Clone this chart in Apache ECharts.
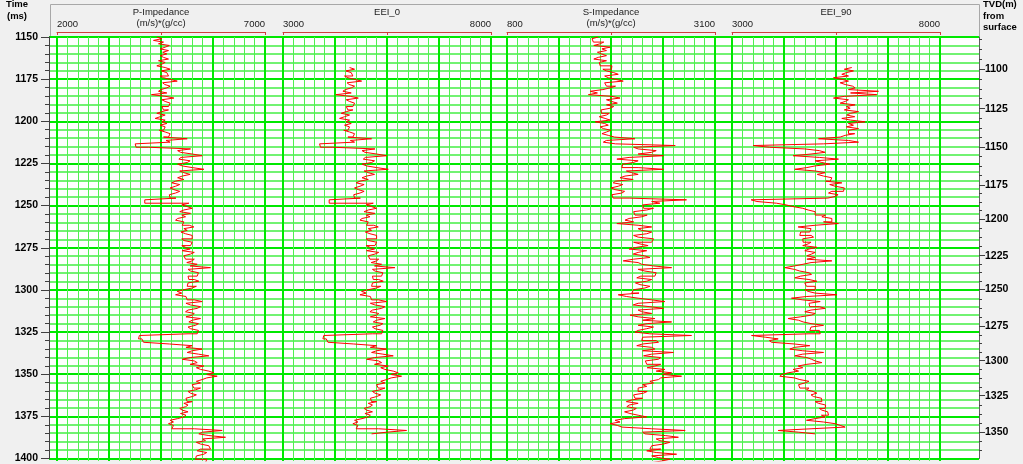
<!DOCTYPE html>
<html><head><meta charset="utf-8">
<script src="https://cdn.jsdelivr.net/npm/echarts@6/dist/echarts.min.js"></script>
<style>html,body{margin:0;padding:0;background:#f0f0f0;}#c{width:1023px;height:464px;}</style>
</head><body><div id="c"></div>
<script>
// ---------- DATA ----------
const timeMin = 1150, timeMax = 1400;
const tvdLabels = [1100, 1125, 1150, 1175, 1200, 1225, 1250, 1275, 1300, 1325, 1350];
const tvdTickTimes = [1168.9, 1192.5, 1215.4, 1237.9, 1257.9, 1279.7, 1299.8, 1321.6, 1342.0, 1362.7, 1384.5];
const trackNames = ['P-Impedance', 'EEI_0', 'S-Impedance', 'EEI_90'];
const trackUnits = ['(m/s)*(g/cc)', '', '(m/s)*(g/cc)', ''];
const trackMin = [2000, 3000, 800, 3000];
const trackMax = [7000, 8000, 3100, 8000];
const sampleStep = 1; // ms
const pImpStart = 1150;
const pImp = [
4400,4520,4320,4560,4440,4700,4600,4480,4680,4540,
4640,4480,4560,4680,4440,4600,4520,4400,4600,4720,
4510,4640,4680,4480,4560,4720,4890,4540,4590,4720,
4640,4500,4440,4640,4270,4620,4810,4520,4600,4720,
4680,4520,4560,4680,4520,4400,4600,4480,4360,4600,
4520,4640,4480,4600,4560,4460,4600,4720,4680,4560,
5130,4620,4720,3880,3900,4200,5210,4900,4970,5250,
5490,4980,4930,5200,5130,4900,5010,5250,5530,4950,
5050,5200,5010,4900,5050,4850,4760,4950,4850,4720,
4810,4950,4850,4700,4720,4860,4110,4110,5170,5000,
5130,5250,5050,4950,5210,5000,5090,4900,4850,5050,
5010,5180,5290,5050,5130,4980,5090,5250,5250,5000,
5050,5250,5210,5000,5090,5200,5010,5300,5210,5050,
5090,5300,5250,5120,5370,5200,5690,5150,5210,5400,
5370,5150,5170,5300,5410,5150,5130,5350,5250,5050,
4890,5000,4850,5100,5130,5300,5490,5100,5210,5450,
5370,5150,5090,5300,5250,5100,5450,5250,5170,5400,
5330,5150,5210,5400,5370,5150,3980,3960,4040,4080,
4120,4700,5250,5100,5490,5250,5130,5400,5650,5200,
5010,5300,5370,5200,5530,5350,5450,5650,5770,5600,
5850,5600,5490,5350,5450,5250,5290,5450,5330,5150,
5210,5350,5250,5100,5130,5250,5050,5150,5090,4950,
5010,5150,4970,5100,5050,4900,4720,4800,4680,4800,
4760,5300,5970,5500,5410,5650,6050,5500,5570,5350,
5450,5650,5690,5450,5370,5600,5530,5350,5330,5600,
5570,5400,5450];
const eei0Start = 1168;
const eei0 = [
4600,4720,
4510,4640,4680,4480,4560,4720,4890,4540,4590,4720,
4640,4500,4440,4640,4270,4620,4810,4520,4600,4720,
4680,4520,4560,4680,4520,4400,4600,4480,4360,4600,
4520,4640,4480,4600,4560,4460,4600,4720,4680,4560,
5130,4620,4720,3880,3900,4200,5210,4900,4970,5250,
5490,4980,4930,5200,5130,4900,5010,5250,5530,4950,
5050,5200,5010,4900,5050,4850,4760,4950,4850,4720,
4810,4950,4850,4700,4720,4860,4110,4110,5170,5000,
5130,5250,5050,4950,5210,5000,5090,4900,4850,5050,
5010,5180,5290,5050,5130,4980,5090,5250,5250,5000,
5050,5250,5210,5000,5090,5200,5010,5300,5210,5050,
5090,5300,5250,5120,5370,5200,5690,5150,5210,5400,
5370,5150,5170,5300,5410,5150,5130,5350,5250,5050,
4890,5000,4850,5100,5130,5300,5490,5100,5210,5450,
5370,5150,5090,5300,5250,5100,5450,5250,5170,5400,
5330,5150,5210,5400,5370,5150,3980,3960,4040,4080,
4120,4700,5250,5100,5490,5250,5130,5400,5650,5200,
5010,5300,5370,5200,5530,5350,5450,5650,5770,5600,
5850,5600,5490,5350,5450,5250,5290,5450,5330,5150,
5210,5350,5250,5100,5130,5250,5050,5150,5090,4950,
5010,5150,4970,5100,5050,4900,4720,4800,4680,4800,
4760,5300,5970,5500,5130];
const sImpStart = 1150;
const sImp = [
1810,1740,1755,1870,1830,1760,1940,1850,1900,1800,
1845,1900,1810,1760,1900,1820,1830,1960,1955,1860,
1900,1980,2030,1880,1920,2000,2085,1880,1900,2000,
1940,1860,1720,1800,1700,1960,2050,1900,1955,2020,
1900,1980,1940,1840,1845,1930,1900,1820,1885,1940,
1775,1880,1920,1830,1865,1950,1900,1850,1920,1990,
2215,1900,1865,2000,2660,2200,2250,2450,2400,2250,
2530,2150,2015,2250,2195,2080,2070,2250,2530,2120,
2180,2250,2105,2050,2195,2000,1975,2080,2030,1950,
1995,2100,2070,1960,1975,2150,2785,2400,2490,2300,
2310,2420,2345,2200,2215,2350,2290,2150,2105,2200,
2015,2250,2400,2250,2290,2400,2345,2200,2250,2420,
2400,2200,2270,2360,2235,2150,2345,2250,2195,2320,
2380,2200,2085,2250,2290,2420,2620,2250,2325,2450,
2435,2280,2235,2400,2345,2220,2270,2380,2325,2200,
2180,2260,2030,2120,2250,2400,2545,2250,2195,2380,
2530,2250,2290,2400,2160,2250,2435,2300,2620,2350,
2250,2420,2345,2250,2215,2380,2840,2300,2290,2450,
2475,2300,2235,2400,2435,2300,2640,2400,2310,2500,
2475,2330,2345,2500,2435,2350,2545,2450,2620,2520,
2730,2500,2475,2380,2420,2300,2345,2250,2250,2350,
2310,2200,2215,2300,2180,2120,2250,2150,2125,2230,
2195,2100,2160,2250,2345,2100,1995,2050,1940,2020,
2070,2400,2770,2300,2325,2550,2695,2450,2490,2600,
2530,2400,2380,2500,2345,2450,2675,2400,2475,2600,
2510,2400,2435];
const eei90Start = 1168;
const eei90 = [
5880,5700,
5920,5750,5640,5800,5440,5650,5800,5600,5720,5900,
5960,5800,6520,5850,6480,5700,5440,5800,5720,5600,
5960,5750,5840,5700,6040,5850,5760,5950,5640,5850,
6200,5800,5920,5750,6040,5800,5800,5950,5720,5600,
5080,5800,6040,5200,3510,3900,4750,5100,5240,4900,
4470,5100,5560,5000,5160,5350,5000,4800,4510,5000,
5240,5050,5200,5400,5360,5250,5640,5350,5480,5700,
5680,5400,5320,5550,5480,5300,3460,3600,4070,4300,
4470,4700,4830,5000,5000,5250,5160,5400,5400,5200,
5560,5000,4590,4900,4870,4650,4630,4900,4960,4700,
4710,4900,4830,4700,5040,4850,4750,5000,4910,4800,
5000,4800,5400,4900,4710,4500,4270,4500,4630,4850,
4910,4650,4510,4850,5040,4750,4790,5000,5000,4750,
4830,5000,5520,4800,4430,4700,5120,4850,4870,5100,
5240,4900,4750,5000,4910,4650,4350,4600,4710,4900,
5200,4900,4870,5100,5120,4850,3470,3800,4110,3900,
3950,4500,4870,4500,4390,4700,5200,4700,4510,4800,
4910,5000,5160,4800,4590,4700,4470,4600,4350,4200,
4150,4500,4630,4850,4750,4600,4630,4850,4790,4950,
5040,4900,4960,5150,5160,5000,5080,5250,5240,5100,
5160,5300,5320,5150,5240,5000,4790,5200,5480,5600,
5720,4900,4110,4600,5000];

// ---------- LAYOUT ----------
const plotLeft = 49, plotRight = 979, plotTop = 37, plotBottom = 461;
const trackLeft = [57, 283, 507, 732], trackWidth = 208;
const majorGreen = '#00e800', minorGreen = '#50f050';
const curveColor = '#ff0000', scaleColor = '#d03c3c';
const font = '"Liberation Sans", Arial, sans-serif';
const plain = v => String(v);

const curves = [[pImpStart, pImp], [eei0Start, eei0], [sImpStart, sImp], [eei90Start, eei90]];

// minor ticks on TVD axis: 4 subdivisions between labelled ticks
const tvdMinor = [];
for (let i = 0; i < tvdTickTimes.length - 1; i++) {
  const a = tvdTickTimes[i], b = tvdTickTimes[i + 1];
  for (let k = 1; k < 4; k++) tvdMinor.push(a + (b - a) * k / 4);
}
{
  const d0 = (tvdTickTimes[1] - tvdTickTimes[0]) / 4;
  for (let t = tvdTickTimes[0] - d0; t > timeMin; t -= d0) tvdMinor.push(t);
  const n = tvdTickTimes.length;
  const d1 = (tvdTickTimes[n - 1] - tvdTickTimes[n - 2]) / 4;
  for (let t = tvdTickTimes[n - 1] + d1; t < timeMax; t += d1) tvdMinor.push(t);
}

const grid = [{left: plotLeft, top: plotTop, width: plotRight - plotLeft, height: plotBottom - plotTop,
  show: true, backgroundColor: '#ffffff', borderWidth: 0}];
const xAxis = [{gridIndex: 0, type: 'value', show: false, min: 0, max: 1}];
const yAxis = [
  {gridIndex: 0, type: 'value', position: 'left', inverse: true, min: timeMin, max: timeMax, interval: 25,
   axisLine: {show: true, lineStyle: {color: '#404040', width: 1}},
   axisTick: {show: true, length: 8, lineStyle: {color: '#404040'}},
   minorTick: {show: true, splitNumber: 5, length: 4, lineStyle: {color: '#404040'}},
   axisLabel: {color: '#000', fontWeight: 'bold', fontSize: 10.5, fontFamily: font, margin: 11, formatter: plain},
   splitLine: {show: false}, minorSplitLine: {show: false}},
  {gridIndex: 0, type: 'value', position: 'right', inverse: true, min: timeMin, max: timeMax,
   axisLine: {show: true, lineStyle: {color: '#606060', width: 1}},
   axisTick: {show: true, length: 6, customValues: tvdTickTimes, lineStyle: {color: '#404040'}},
   axisLabel: {show: true, customValues: tvdTickTimes, color: '#000', fontWeight: 'bold', fontSize: 10.5, fontFamily: font, margin: 6,
     formatter: function (v) {
       let best = 0;
       for (let i = 1; i < tvdTickTimes.length; i++) if (Math.abs(tvdTickTimes[i] - v) < Math.abs(tvdTickTimes[best] - v)) best = i;
       return String(tvdLabels[best]);
     }},
   splitLine: {show: false}},
  {gridIndex: 0, type: 'value', position: 'right', inverse: true, min: timeMin, max: timeMax,
   axisLine: {show: false},
   axisTick: {show: true, length: 3, customValues: tvdMinor, lineStyle: {color: '#404040'}},
   axisLabel: {show: false}, splitLine: {show: false}},
  // horizontal grid lines: 10 major bands of 25 ms, 5 minor lines each
  {gridIndex: 0, type: 'value', position: 'left', min: 0, max: 10, interval: 1, show: true,
   axisLine: {show: false}, axisTick: {show: false}, axisLabel: {show: false},
   minorTick: {show: false, splitNumber: 5},
   splitLine: {show: true, lineStyle: {color: majorGreen, width: 2}},
   minorSplitLine: {show: true, lineStyle: {color: '#44ee44', width: 1.5}}}
];
const series = [];
const graphic = [];

trackNames.forEach((name, i) => {
  const g = grid.length;
  grid.push({left: trackLeft[i], top: plotTop, width: trackWidth, height: plotBottom - plotTop, show: false});
  const dataAxis = xAxis.length;
  const mid = (trackMin[i] + trackMax[i]) / 2;
  xAxis.push({gridIndex: g, type: 'value', position: 'top', offset: 5, min: trackMin[i], max: trackMax[i],
    axisLine: {show: true, lineStyle: {color: scaleColor, width: 1}},
    axisTick: {show: true, inside: true, length: 3, customValues: [trackMin[i], mid, trackMax[i]], lineStyle: {color: scaleColor}},
    axisLabel: {show: true, customValues: [trackMin[i], trackMax[i]], alignMinLabel: 'left', alignMaxLabel: 'right',
      color: '#202020', fontSize: 9.5, fontFamily: font, margin: 3, formatter: plain},
    splitLine: {show: false}});
  xAxis.push({gridIndex: g, type: 'value', position: 'bottom', min: 0, max: 4, interval: 1,
    axisLine: {show: false}, axisTick: {show: false}, axisLabel: {show: false},
    minorTick: {show: false, splitNumber: 5},
    splitLine: {show: true, lineStyle: {color: majorGreen, width: 2}},
    minorSplitLine: {show: true, lineStyle: {color: minorGreen, width: 1}}});
  const yIdx = yAxis.length;
  yAxis.push({gridIndex: g, type: 'value', inverse: true, min: timeMin, max: timeMax, show: false});
  const start = curves[i][0], vals = curves[i][1];
  series.push({type: 'line', name: name, xAxisIndex: dataAxis, yAxisIndex: yIdx,
    data: vals.map((v, k) => [v, start + k * sampleStep]),
    step: 'start', symbol: 'none', showSymbol: false, silent: true, clip: true,
    lineStyle: {color: curveColor, width: 1}, z: 5});
  const cx = trackLeft[i] + trackWidth / 2;
  graphic.push({type: 'text', x: cx, y: 12, silent: true,
    style: {text: name, textAlign: 'center', textVerticalAlign: 'middle', font: '9.5px ' + font, fill: '#202020'}});
  if (trackUnits[i]) graphic.push({type: 'text', x: cx, y: 23.5, silent: true,
    style: {text: trackUnits[i], textAlign: 'center', textVerticalAlign: 'middle', font: '9.5px ' + font, fill: '#202020'}});
});

graphic.push({type: 'rect', z: -1, silent: true, shape: {x: 50.5, y: 4.5, width: plotRight - 50, height: 32},
  style: {fill: 'none', stroke: '#a8a8a8', lineWidth: 1}});
graphic.push({type: 'text', x: 17, y: 4, silent: true, style: {text: 'Time', textAlign: 'center', textVerticalAlign: 'middle', font: 'bold 9.5px ' + font, fill: '#000'}});
graphic.push({type: 'text', x: 17, y: 16, silent: true, style: {text: '(ms)', textAlign: 'center', textVerticalAlign: 'middle', font: 'bold 9.5px ' + font, fill: '#000'}});
graphic.push({type: 'text', x: 983, y: 4, silent: true, style: {text: 'TVD(m)', textAlign: 'left', textVerticalAlign: 'middle', font: 'bold 9.5px ' + font, fill: '#000'}});
graphic.push({type: 'text', x: 983, y: 16, silent: true, style: {text: 'from', textAlign: 'left', textVerticalAlign: 'middle', font: 'bold 9.5px ' + font, fill: '#000'}});
graphic.push({type: 'text', x: 983, y: 27.5, silent: true, style: {text: 'surface', textAlign: 'left', textVerticalAlign: 'middle', font: 'bold 9.5px ' + font, fill: '#000'}});

const chart = echarts.init(document.getElementById('c'), null, {renderer: 'canvas'});
chart.setOption({animation: false, backgroundColor: '#f0f0f0', grid, xAxis, yAxis, series, graphic});
</script></body></html>
